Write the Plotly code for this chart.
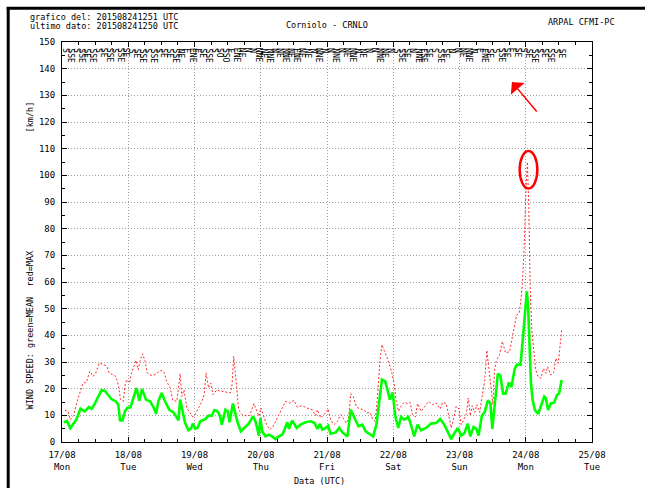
import plotly.graph_objects as go

# hours since 17/08/2015 00:00 UTC
mean_hours = [0.6,1.8,3,4,5.2,6.7,8.2,9.8,10.7,11.9,13.1,14.3,15.5,16.7,17.9,19.5,20.4,21,21.9,22.8,23.6,
              24.8,25.8,27,28,29,30.4,31.9,33.1,34.1,34.9,36.1,37.3,38.9,40.4,41.3,42.2,42.8,43.8,44.6,45.8,46.7,47.4,
              48.2,49.1,50.1,51.9,53.1,54.3,55.2,56.1,57.1,57.9,59.2,60,60.7,61.9,62.8,63.6,64.8,66.4,67.6,69.2,70.1,70.7,71.3,71.9,
              72.5,73.7,74.9,76.1,77.3,78.5,79.8,80.6,81.6,82.2,83.4,85,86.4,88.2,90.1,91.5,92.5,93.5,94.3,95.5,
              96.4,97.3,99.2,100.4,101.6,103.4,104.6,105.8,107.4,108.8,110,111.3,112.7,113.9,114.9,115.9,117.1,117.9,118.8,119.8,
              120.7,121.8,122.8,124,125.5,126.4,127.6,128.8,130.1,131.9,133.7,135.5,137,138.5,139.8,141,142.2,143.4,
              144.6,145.8,147,147.9,149.1,150.1,150.9,152.1,153.1,154.3,155.2,155.9,156.7,157.9,158.8,159.8,160.7,161.9,162.8,164,164.8,166.1,166.8,167.6,
              168.4,168.9,169.4,169.9,170.5,171.3,172.5,173.5,174.7,175.3,176.1,177.1,178.3,179.3,180.1,181]
mean_vals = [7.4,7.8,5.2,6.8,8.4,12.5,11.5,13.1,12.4,14.4,17.1,19.4,19.2,17.8,16.1,15.2,14,8.1,8,11.5,12.75,
             13,16.5,20.25,15.5,19.9,15.9,15.25,13.1,10.6,15.25,18.4,15.25,12.1,11.1,9.6,8.1,15.9,11.5,7.1,4.4,4.9,6.9,
             5,5.25,7.75,8.6,9.9,9.9,11.9,11.75,10.25,6.5,12.1,11.5,7.4,14.4,10.25,7.4,4,5.9,6.9,9.6,7.75,5.25,2.4,9,
             4,2.1,2.75,2.1,1.1,2.1,2.75,4.6,7.4,4.9,8.1,5.25,6.5,7.4,7.75,7.1,4.9,6.75,4.6,5.25,
             6.1,3.1,3.6,5.25,3.6,2.1,12.1,9.4,5.9,6.5,4,3.1,2.1,6.5,14,23.4,22.75,19.6,15.9,18.6,
             9.9,5.25,9.4,8.4,9.4,6.5,2.1,6.5,4.4,5.25,6.9,7.1,8.6,6.5,3.6,1.1,3.4,5.25,
             2.4,3.4,6.9,2.1,5.6,4.9,2.4,9.9,11.1,15.6,14.4,4.9,13.4,25.6,24.9,18.1,18.1,22.4,20.6,27.4,29,29,37,48,
             56.5,50,38,22,15.75,12,10.5,13.25,17,16.4,12,14.5,14.75,17.6,18.25,23.25]

max_hours = [1,2.2,3,4.2,5.5,6.7,7.6,8.8,10.1,11.3,12.2,13.5,14.9,16.1,17.1,18.3,19.5,20.4,21.2,22.2,22.8,23.4,
             24.4,25.2,26.1,26.8,27.6,28.2,29.2,30.1,30.9,32.5,33.7,34.9,35.8,37,37.9,39.2,40.1,41.6,42.8,43.4,44.2,45.2,46.4,47.4,
             48.2,49.5,50.7,51.5,52.2,53.1,53.9,54.7,56.1,57.3,58.5,59.8,61,61.6,62.2,62.8,63.4,64,65.2,66.4,68,69.5,70.4,71.3,
             72.1,72.8,74.1,75.3,76.5,77.7,79.2,81,82.5,84,85.2,87,88.8,90.7,91.9,92.5,93.7,94.9,
             96.4,97.3,98.5,99.8,101,101.8,103,103.8,104.6,105.5,106.7,107.9,109.5,110.3,111.5,112.5,113.5,114.3,115.2,115.9,116.7,117.6,118.5,119.5,
             120.4,121,121.9,122.8,124,125.2,126.1,127,128,128.8,130.1,131.3,132.8,134.3,135.5,137,137.9,139.2,140.1,141,141.8,142.8,143.8,
             144.6,145.5,146.4,147.2,147.9,148.6,149.5,150.3,151.3,152.2,153.1,153.9,154.7,155.5,156.1,156.7,157.3,158.5,159.5,160.7,162.2,163.5,164.7,165.6,166.2,166.8,167.5,
             168.1,168.6,169.1,169.6,170.2,171,171.6,172.5,173.5,174.4,175.3,175.9,177.1,178.1,178.9,179.8,180.5,181]
max_vals = [11.9,11.5,8.4,9.9,15.25,19,22.1,22.4,26.5,24.6,25.9,29.6,29,28.6,25.9,25.25,24.6,21.5,15.9,15.25,20.9,23.4,
            22.1,25.9,28.6,30.6,27.1,30.25,33.1,30.25,25.9,24.9,25.25,26.1,26.9,26.1,22.75,20.25,15.6,15.25,25.6,17.1,19.6,12.75,10.9,9.4,
            10.25,13.1,15.25,17.75,25.9,20.25,22.1,17.75,19.6,19,19,18.6,18.4,21.5,32.1,25.9,18.4,12.1,10.25,9.9,9.9,14.4,12.1,9.6,
            12.75,10.25,6.5,4.6,5.9,8.4,11.5,15.25,14.6,15.6,13.1,13.6,12.75,12.1,9.9,12.1,9,10.25,
            12.4,8.4,6.5,7.75,10.25,9,7.1,8.6,18.1,17.1,13.1,12.4,12.1,10.9,11.1,8.6,7.75,17.1,30.9,36.5,34.4,31.5,29.6,25.9,
            21.5,15.6,11.5,13.4,14.9,14.4,14.9,10.25,9.4,14.4,11.5,13.1,15.25,14,14.6,12.4,14.9,14.4,10.25,5.25,8.4,13.4,12.4,
            6.5,8.4,10.25,16.5,9.9,13.6,11.1,14,11.1,17.1,22.75,34.4,27.1,20.25,14,27.1,30.25,32.75,37.75,33.4,33.9,41.4,47.6,48.25,52.6,59.5,75,
            95,105,88,58,42,33.25,27,24.5,23.9,27.6,25.75,28.25,25.1,26,31.4,29.5,37,42]

day_ticks = [0, 24, 48, 72, 96, 120, 144, 168, 192]
day_labels = ["17/08<br>Mon", "18/08<br>Tue", "19/08<br>Wed", "20/08<br>Thu", "21/08<br>Fri",
              "22/08<br>Sat", "23/08<br>Sun", "24/08<br>Mon", "25/08<br>Tue"]
y_ticks = [0, 10, 20, 30, 40, 50, 60, 70, 80, 90, 100, 110, 120, 130, 140, 150]

dir_labels = ["S","SSE","S","SSE","SE","SSE","S","SE","SSE","S","SSE","SE",
              "S","SE","SSE","S","SSE","S","SE","SE","SSE","NE","E","ENE",
              "E","SE","SSE","S","SO","SSO","E","ENE","NE","N","N","NNE",
              "NE","NNE","N","NE","NNE","NE","ENE","NE","NE","N","NNE","N",
              "N","NNE","N","NE","NNE","N","NE","N","N","NNE","NE","N",
              "S","SSE","SE","N","NNE","ESE","SE","S","SSE","SE","N","N",
              "NE","NNE","N","E","ENE","SE","S","SSE","SE","E","SE","S",
              "SE","SSE","S","SE","SSE","S","SE"]
dir_hours = [1 + 2 * i for i in range(len(dir_labels))]

MONO = "DejaVu Sans Mono"

fig = go.Figure()
fig.add_trace(go.Scatter(x=max_hours, y=max_vals, mode="lines",
                         line=dict(color="#ff2a2a", width=1, dash="2px,2px"), hoverinfo="skip"))
fig.add_trace(go.Scatter(x=mean_hours, y=mean_vals, mode="lines",
                         line=dict(color="#00ff00", width=2.6), hoverinfo="skip"))

L, R, T, B = 62.3, 52.7, 42.3, 45.7
W, H = 645, 488
pw, ph = W - L - R, H - T - B


def px(x):
    return (x - L) / pw


def py(y):
    return (H - B - y) / ph


ann = []
for h, d in zip(dir_hours, dir_labels):
    ann.append(dict(x=h, y=148.4, xref="x", yref="y", text=d, showarrow=False, textangle=90,
                    xanchor="center", yanchor="top", font=dict(family=MONO, size=8, color="black")))

hdr = dict(family=MONO, size=8.5, color="black")
ann += [
    dict(x=px(28), y=py(17), xref="paper", yref="paper", text="grafico del: 201508241251 UTC",
         showarrow=False, xanchor="left", yanchor="middle", font=hdr),
    dict(x=px(28), y=py(26), xref="paper", yref="paper", text="ultimo dato: 201508241250 UTC",
         showarrow=False, xanchor="left", yanchor="middle", font=hdr),
    dict(x=px(327), y=py(25), xref="paper", yref="paper", text="Corniolo - CRNLO",
         showarrow=False, xanchor="center", yanchor="middle", font=hdr),
    dict(x=px(546), y=py(22), xref="paper", yref="paper", text="ARPAL CFMI-PC",
         showarrow=False, xanchor="left", yanchor="middle", font=hdr),
    dict(x=px(30), y=py(117), xref="paper", yref="paper", text="[km/h]", textangle=-90,
         showarrow=False, xanchor="center", yanchor="middle", font=hdr),
    dict(x=px(30), y=py(330), xref="paper", yref="paper", text="WIND SPEED: green=MEAN  red=MAX",
         textangle=-90, showarrow=False, xanchor="center", yanchor="middle", font=hdr),
    dict(x=px(320), y=py(481), xref="paper", yref="paper", text="Data (UTC)",
         showarrow=False, xanchor="center", yanchor="middle", font=hdr),
    dict(x=163.0, y=135, xref="x", yref="y", ax=26, ay=31, text="", showarrow=True,
         arrowhead=1, arrowsize=2, arrowwidth=1.5, arrowcolor="red"),
]

shapes = [
    dict(type="circle", xref="x", yref="y", x0=165.8, x1=172.2, y0=95.1, y1=109.1,
         line=dict(color="red", width=2.5)),
    dict(type="line", xref="paper", yref="paper", x0=px(8.5), x1=px(8.5), y0=py(490), y1=py(7.5),
         line=dict(color="black", width=3)),
    dict(type="line", xref="paper", yref="paper", x0=px(7), x1=px(650), y0=py(8.5), y1=py(8.5),
         line=dict(color="black", width=3)),
]

axis_common = dict(showline=True, linecolor="black", linewidth=1, mirror="allticks",
                   ticks="inside", ticklen=5, tickcolor="black",
                   showgrid=True, gridcolor="#a0a0a0", griddash="1px,2px", gridwidth=1,
                   zeroline=False, tickfont=dict(family=MONO, size=9, color="black"))

fig.update_layout(
    width=W, height=H, autosize=False,
    margin=dict(l=L, r=R, t=T, b=B, pad=0),
    paper_bgcolor="white", plot_bgcolor="white",
    showlegend=False,
    annotations=ann, shapes=shapes,
    xaxis=dict(range=[0, 192], tickvals=day_ticks, ticktext=day_labels,
               minor=dict(dtick=6, tick0=0, ticks="inside", ticklen=3, tickcolor="black", showgrid=False),
               ticklabelstandoff=4, **axis_common),
    yaxis=dict(range=[0, 150], tickvals=y_ticks,
               minor=dict(dtick=5, tick0=0, ticks="inside", ticklen=3, tickcolor="black", showgrid=False),
               ticklabelstandoff=4, **axis_common),
)

fig.write_html("out.html")
